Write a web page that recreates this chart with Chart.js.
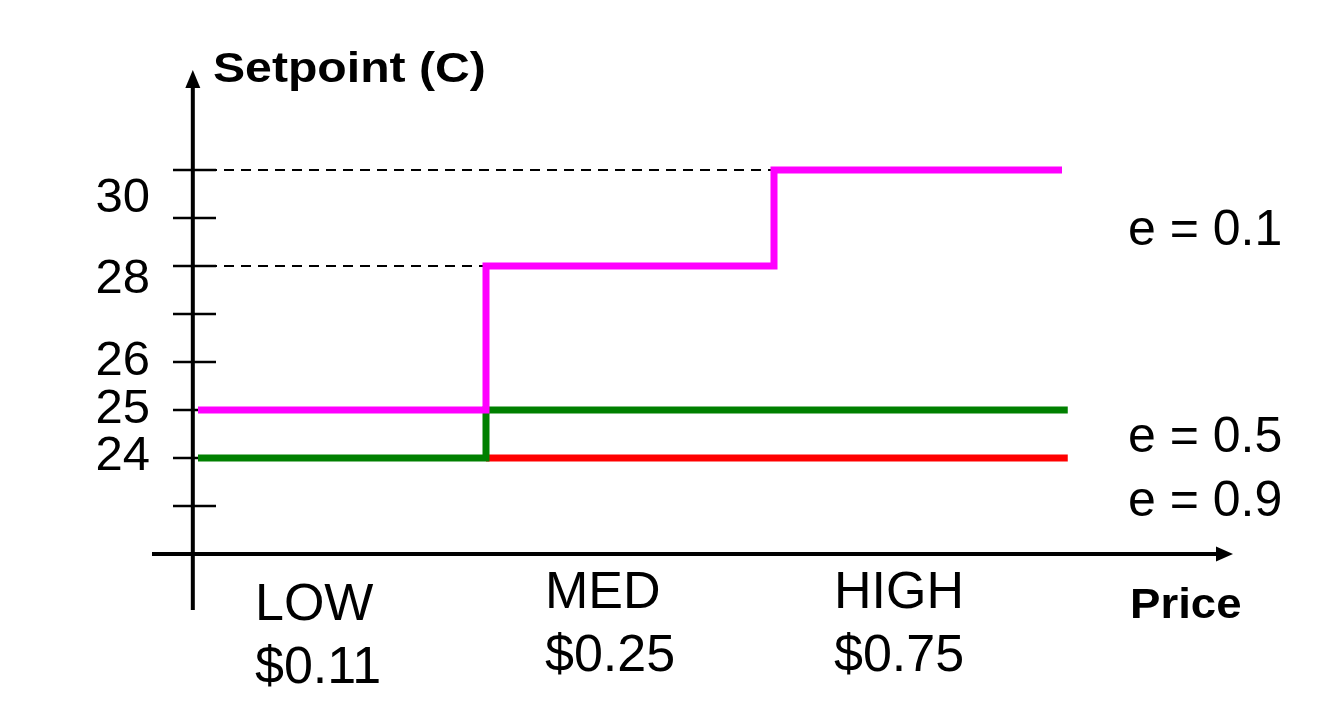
<!DOCTYPE html>
<html>
<head>
<meta charset="utf-8">
<title>Setpoint vs Price</title>
<script src="https://cdn.jsdelivr.net/npm/chart.js@4/dist/chart.umd.min.js"></script>
<style>
    html, body { margin: 0; padding: 0; background: #fff; }
    canvas { display: block; }
</style>
</head>
<body>
<canvas id="chart" width="1326" height="710"></canvas>
<script>
// Datos del gráfico (escalones por nivel de precio)
const e01X = [0, 1, 2, 3];
const e01Y = [25, 28, 30, 30];
const e05X = [0, 1, 3.02];
const e05Y = [24, 25, 25];
const e09X = [1, 3.02];
const e09Y = [24, 24];

const seriesNames = ['e = 0.1', 'e = 0.5', 'e = 0.9'];
const categoryNames = ['LOW', 'MED', 'HIGH'];
const categoryPrices = ['$0.11', '$0.25', '$0.75'];
const yTicks = [23, 24, 25, 26, 27, 28, 29, 30];
const yTickLabels = ['30', '28', '26', '25', '24'];
const yTickLabelValues = [30, 28, 26, 25, 24];

const FONT = '"Liberation Sans", Arial, Helvetica, sans-serif';

const toPoints = (xs, ys) => xs.map((x, i) => ({ x: x, y: ys[i] }));

// Ejes, flechas, marcas y textos dibujados a mano
const schematicPlugin = {
    id: 'schematic',
    beforeDatasetsDraw(chart) {
        const { ctx } = chart;
        const xs = chart.scales.x;
        const ys = chart.scales.y;
        const axisX = xs.getPixelForValue(-0.018);
        const axisY = ys.getPixelForValue(22);

        ctx.save();
        ctx.strokeStyle = '#000';
        ctx.fillStyle = '#000';

        // lineas punteadas hacia los escalones del e = 0.1
        ctx.lineWidth = 2.2;
        ctx.setLineDash([10, 7]);
        [1, 2].forEach(i => {
            const py = Math.round(ys.getPixelForValue(e01Y[i]));
            ctx.beginPath();
            ctx.moveTo(173, py);
            ctx.lineTo(xs.getPixelForValue(e01X[i]), py);
            ctx.stroke();
        });
        ctx.setLineDash([]);

        // marcas del eje Y
        ctx.lineWidth = 2.5;
        yTicks.forEach(v => {
            const py = Math.round(ys.getPixelForValue(v));
            ctx.beginPath();
            ctx.moveTo(173, py);
            ctx.lineTo(216, py);
            ctx.stroke();
        });

        // eje Y con flecha
        ctx.lineWidth = 4;
        ctx.beginPath();
        ctx.moveTo(axisX, 610);
        ctx.lineTo(axisX, 84);
        ctx.stroke();
        ctx.beginPath();
        ctx.moveTo(axisX, 70);
        ctx.lineTo(axisX - 7.5, 88);
        ctx.lineTo(axisX + 7.5, 88);
        ctx.closePath();
        ctx.fill();

        // eje X con flecha
        ctx.beginPath();
        ctx.moveTo(152, axisY);
        ctx.lineTo(1220, axisY);
        ctx.stroke();
        ctx.beginPath();
        ctx.moveTo(1233, axisY);
        ctx.lineTo(1216, axisY - 7.5);
        ctx.lineTo(1216, axisY + 7.5);
        ctx.closePath();
        ctx.fill();
        ctx.restore();
    },
    afterDraw(chart) {
        const { ctx } = chart;
        const xs = chart.scales.x;
        const ys = chart.scales.y;

        ctx.save();
        ctx.fillStyle = '#000';
        ctx.textBaseline = 'alphabetic';

        // etiquetas del eje Y
        const yOffsets = [42, 27, 13, 13, 12];
        ctx.font = '49px ' + FONT;
        ctx.textAlign = 'right';
        yTickLabels.forEach((t, i) => {
            ctx.fillText(t, 150, ys.getPixelForValue(yTickLabelValues[i]) + yOffsets[i]);
        });

        // categorias de precio
        const catDx = [57, 59, 60];
        const catTop = [620, 608, 608];
        ctx.font = '52px ' + FONT;
        ctx.textAlign = 'left';
        categoryNames.forEach((name, i) => {
            const px = xs.getPixelForValue(i) + catDx[i];
            ctx.fillText(name, px, catTop[i]);
            ctx.fillText(categoryPrices[i], px, catTop[i] + 63);
        });

        // nombres de las series
        ctx.font = '50px ' + FONT;
        const nameBase = [245, 452, 516];
        seriesNames.forEach((name, i) => {
            ctx.fillText(name, 1128, nameBase[i]);
        });

        // titulos de ejes (negrita algo ensanchada)
        const boldText = (text, x, y, sx) => {
            ctx.save();
            ctx.translate(x, y);
            ctx.scale(sx, 1);
            ctx.font = 'bold 43px ' + FONT;
            ctx.fillText(text, 0, 0);
            ctx.restore();
        };
        boldText('Setpoint (C)', 213, 82, 1.12);
        boldText('Price', 1130, 618, 1.06);

        ctx.restore();
    }
};

const chart = new Chart(document.getElementById('chart'), {
    type: 'line',
    data: {
        datasets: [
            {
                label: seriesNames[0],
                data: toPoints(e01X, e01Y),
                borderColor: '#ff00ff',
                stepped: 'before'
            },
            {
                label: seriesNames[1],
                data: toPoints(e05X, e05Y),
                borderColor: '#008000',
                stepped: 'before'
            },
            {
                label: seriesNames[2],
                data: toPoints(e09X, e09Y),
                borderColor: '#ff0000',
                stepped: 'before'
            }
        ]
    },
    options: {
        responsive: false,
        animation: false,
        devicePixelRatio: 1,
        layout: {
            padding: { left: 126, right: 48, top: 74, bottom: 108 }
        },
        elements: {
            line: { borderWidth: 7, fill: false, borderCapStyle: 'butt', borderJoinStyle: 'miter' },
            point: { radius: 0, hoverRadius: 0 }
        },
        scales: {
            x: { type: 'linear', min: -0.25, max: 3.75, display: false },
            y: { type: 'linear', min: 21, max: 32, display: false }
        },
        plugins: {
            legend: { display: false },
            tooltip: { enabled: false }
        }
    },
    plugins: [schematicPlugin]
});
</script>
</body>
</html>
